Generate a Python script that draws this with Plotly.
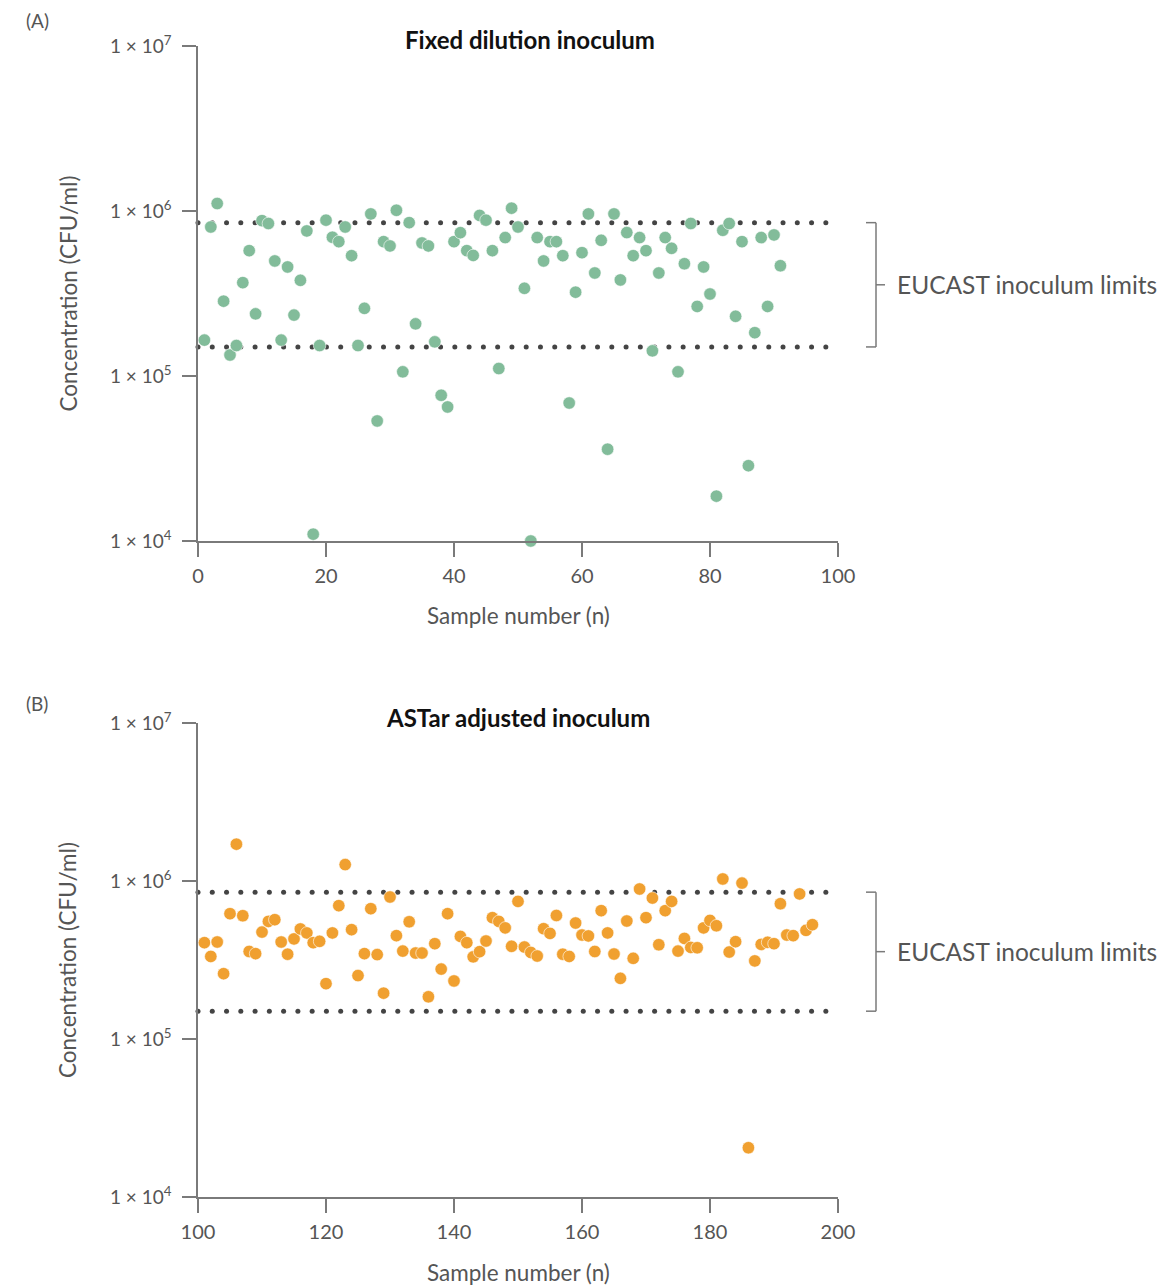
import numpy as np
import plotly.graph_objects as go

# ---------------- data ----------------
sample_a = list(range(1, 92))
conc_a = [1.65e5, 8.0e5, 1.11e6, 2.84e5, 1.34e5, 1.53e5, 3.68e5, 5.75e5, 2.38e5, 8.74e5,
          8.4e5, 4.98e5, 1.65e5, 4.58e5, 2.34e5, 3.8e5, 7.57e5, 1.1e4, 1.53e5, 8.8e5,
          6.93e5, 6.52e5, 8.0e5, 5.36e5, 1.53e5, 2.57e5, 9.6e5, 5.34e4, 6.52e5, 6.14e5,
          1.01e6, 1.06e5, 8.5e5, 2.07e5, 6.4e5, 6.14e5, 1.61e5, 7.64e4, 6.49e4, 6.52e5,
          7.39e5, 5.75e5, 5.38e5, 9.4e5, 8.8e5, 5.75e5, 1.11e5, 6.9e5, 1.04e6, 8.0e5,
          3.4e5, 1.0e4, 6.9e5, 4.98e5, 6.52e5, 6.52e5, 5.36e5, 6.86e4, 3.22e5, 5.59e5,
          9.6e5, 4.21e5, 6.64e5, 3.6e4, 9.6e5, 3.82e5, 7.4e5, 5.36e5, 6.9e5, 5.75e5,
          1.42e5, 4.21e5, 6.9e5, 5.94e5, 1.06e5, 4.79e5, 8.4e5, 2.64e5, 4.58e5, 3.14e5,
          1.87e4, 7.64e5, 8.4e5, 2.3e5, 6.52e5, 2.86e4, 1.83e5, 6.9e5, 2.64e5, 7.16e5,
          4.66e5]

sample_b = list(range(101, 197))
conc_b = [4.07e5, 3.33e5, 4.11e5, 2.59e5, 6.21e5, 1.71e6, 6.03e5, 3.58e5, 3.47e5, 4.75e5,
          5.55e5, 5.69e5, 4.11e5, 3.44e5, 4.30e5, 4.97e5, 4.69e5, 4.07e5, 4.15e5, 2.24e5,
          4.69e5, 6.98e5, 1.27e6, 4.92e5, 2.52e5, 3.47e5, 6.68e5, 3.42e5, 1.95e5, 7.92e5,
          4.51e5, 3.6e5, 5.52e5, 3.5e5, 3.5e5, 1.85e5, 4.01e5, 2.77e5, 6.21e5, 2.33e5,
          4.46e5, 4.07e5, 3.31e5, 3.57e5, 4.17e5, 5.86e5, 5.55e5, 5.05e5, 3.86e5, 7.43e5,
          3.82e5, 3.53e5, 3.35e5, 4.99e5, 4.66e5, 6.05e5, 3.44e5, 3.33e5, 5.42e5, 4.55e5,
          4.49e5, 3.58e5, 6.49e5, 4.69e5, 3.45e5, 2.42e5, 5.58e5, 3.24e5, 8.9e5, 5.86e5,
          7.8e5, 3.95e5, 6.49e5, 7.43e5, 3.6e5, 4.33e5, 3.80e5, 3.78e5, 5.05e5, 5.63e5,
          5.21e5, 1.03e6, 3.55e5, 4.13e5, 9.7e5, 2.05e4, 3.12e5, 3.97e5, 4.09e5, 4.01e5,
          7.18e5, 4.55e5, 4.51e5, 8.28e5, 4.87e5, 5.29e5]

limit_low = 1.5e5
limit_high = 8.5e5

y_tickvals = [1e4, 1e5, 1e6, 1e7]
y_ticktext = ["1 × 10<sup>4</sup>", "1 × 10<sup>5</sup>", "1 × 10<sup>6</sup>", "1 × 10<sup>7</sup>"]
x_ticks_a = [0, 20, 40, 60, 80, 100]
x_ticks_b = [100, 120, 140, 160, 180, 200]

titles = ["Fixed dilution inoculum", "ASTar adjusted inoculum"]
panel_labels = ["(A)", "(B)"]
bracket_label = "EUCAST inoculum limits"
x_title = "Sample number (n)"
y_title = "Concentration (CFU/ml)"

# ---------------- style ----------------
W, H = 1163, 1286
FONT = "Lato"
GREY = "#555555"
AXIS = "#7a7a7a"
GREEN = "#82bc9a"
ORANGE = "#f0a030"
DOT = "#444444"

def px_x(p):
    return p / W

def px_y(p):
    return 1 - p / H

xdom = [px_x(198), px_x(838)]

panels = [
    dict(x=sample_a, y=conc_a, color=GREEN, xr=[0, 100], xt=x_ticks_a, xa="x", ya="y",
         top=46, bottom=541, title_x=530, title_y=40, label_y=20, xtitle_y=615),
    dict(x=sample_b, y=conc_b, color=ORANGE, xr=[100, 200], xt=x_ticks_b, xa="x2", ya="y2",
         top=723, bottom=1197, title_x=518, title_y=717, label_y=703, xtitle_y=1272),
]

fig = go.Figure()
annotations = []
shapes = []

for i, p in enumerate(panels):
    ydom = [px_y(p["bottom"]), px_y(p["top"])]
    x0 = p["xr"][0]
    dots_x = list(np.linspace(x0, x0 + 98.1, 45))
    for lim in (limit_low, limit_high):
        fig.add_trace(go.Scatter(
            x=dots_x, y=[lim] * len(dots_x), mode="markers",
            marker=dict(color=DOT, size=5, line=dict(width=0)),
            xaxis=p["xa"], yaxis=p["ya"], hoverinfo="skip", showlegend=False,
            cliponaxis=False))
    fig.add_trace(go.Scatter(
        x=p["x"], y=p["y"], mode="markers",
        marker=dict(color=p["color"], size=12.5, line=dict(color="white", width=0.6)),
        xaxis=p["xa"], yaxis=p["ya"], showlegend=False, cliponaxis=False))

    xkey = "xaxis" if i == 0 else "xaxis2"
    ykey = "yaxis" if i == 0 else "yaxis2"
    fig.update_layout(**{
        xkey: dict(domain=xdom, range=p["xr"], anchor=p["ya"], tickvals=p["xt"],
                   ticks="outside", ticklen=14, tickwidth=1.5, tickcolor=AXIS,
                   showline=True, linecolor=AXIS, linewidth=1.5, showgrid=False,
                   zeroline=False, automargin=False, ticklabelstandoff=2,
                   tickfont=dict(family=FONT, size=20, color=GREY)),
        ykey: dict(domain=ydom, type="log", range=[4, 7], anchor=p["xa"],
                   tickvals=y_tickvals, ticktext=y_ticktext,
                   ticks="outside", ticklen=14, tickwidth=1.5, tickcolor=AXIS,
                   showline=True, linecolor=AXIS, linewidth=1.5, showgrid=False,
                   zeroline=False, automargin=False, ticklabelstandoff=7,
                   tickfont=dict(family=FONT, size=19, color=GREY)),
    })

    annotations.append(dict(text="<b>" + titles[i] + "</b>", xref="paper", yref="paper",
                            x=px_x(p["title_x"]), y=px_y(p["title_y"]),
                            xanchor="center", yanchor="middle", showarrow=False,
                            font=dict(family=FONT, size=24, color="#111111")))
    annotations.append(dict(text=panel_labels[i], xref="paper", yref="paper",
                            x=px_x(24), y=px_y(p["label_y"]), xanchor="left", yanchor="middle",
                            showarrow=False, font=dict(family=FONT, size=19, color=GREY)))
    annotations.append(dict(text=y_title, xref="paper", yref="paper",
                            x=px_x(68), y=(ydom[0] + ydom[1]) / 2,
                            textangle=-90, xanchor="center", yanchor="middle", showarrow=False,
                            font=dict(family=FONT, size=22.5, color=GREY)))
    annotations.append(dict(text=x_title, xref="paper", yref="paper",
                            x=px_x(518), y=px_y(p["xtitle_y"]), xanchor="center",
                            yanchor="middle", showarrow=False,
                            font=dict(family=FONT, size=22.5, color=GREY)))
    # bracket
    bx = px_x(876)
    yref = p["ya"]
    mid = np.sqrt(limit_low * limit_high)
    shapes.append(dict(type="line", xref="paper", yref=yref, x0=bx, x1=bx,
                       y0=limit_low, y1=limit_high, line=dict(color=AXIS, width=1.5)))
    for lim in (limit_low, limit_high):
        shapes.append(dict(type="line", xref="paper", yref=yref, x0=px_x(866), x1=bx,
                           y0=lim, y1=lim, line=dict(color=AXIS, width=1.5)))
    shapes.append(dict(type="line", xref="paper", yref=yref, x0=bx, x1=px_x(885),
                       y0=mid, y1=mid, line=dict(color=AXIS, width=1.5)))
    annotations.append(dict(text=bracket_label, xref="paper", yref=yref,
                            x=px_x(895), y=np.log10(mid), xanchor="left", yanchor="middle",
                            showarrow=False, font=dict(family=FONT, size=24.5, color=GREY)))

fig.update_layout(template="none", width=W, height=H,
                  margin=dict(l=0, r=0, t=0, b=0, pad=0, autoexpand=False),
                  plot_bgcolor="white", paper_bgcolor="white",
                  annotations=annotations, shapes=shapes,
                  font=dict(family=FONT, color=GREY))

fig.write_html("out.html", config={"displayModeBar": False},
               post_script="document.body.style.margin='0';")
